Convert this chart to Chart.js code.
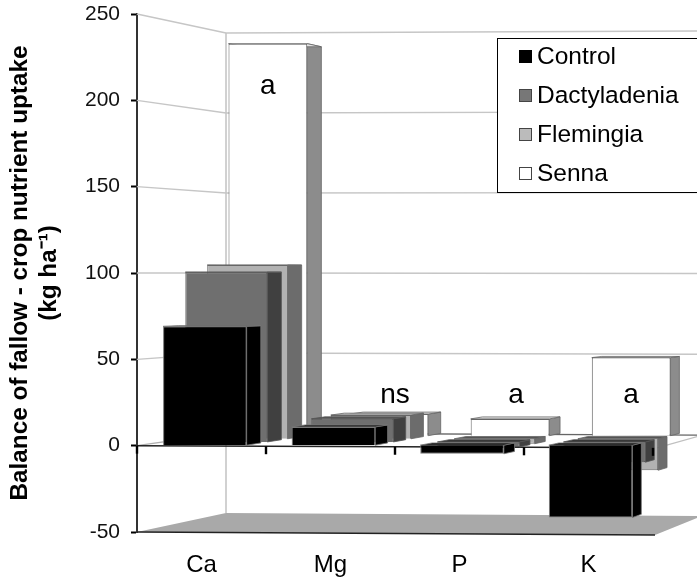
<!DOCTYPE html>
<html>
<head>
<meta charset="utf-8">
<style>
html,body{margin:0;padding:0;background:#fff}
canvas{display:block}
</style>
<script src="https://cdn.jsdelivr.net/npm/chart.js@4"></script>
</head>
<body>
<canvas id="c" width="697" height="585"></canvas>
<script>
// values
const categories=['Ca','Mg','P','K'];
const control=[69,10.6,-5,-42];
const dactyladenia=[100.5,13.7,-3,-12];
const flemingia=[104.8,14.3,-3,-19];
const senna=[241,13.3,10.3,48];
const sigLabels=['a','ns','a','a'];
const sigAt=[0,1.05,2.05,3];        // category position of the letter
const sigValues=[215,25,25,25];     // height of the letter, on senna's scale

// the fake 3d box: t=0 is the front of the box, t=1 the back wall
const front={left:137,right:653,top:14,bottom:532};
const back={left:226,right:702,top:33,bottom:513};
const backFarEnd={top:31,bottom:516};
const frontFarEnd={top:12,bottom:535};
const barDepth=0.175;
const FONT='"Liberation Sans", Arial, sans-serif';

function plane(t){
  return {
    left:front.left+(back.left-front.left)*t,
    right:front.right+(back.right-front.right)*t,
    top:front.top+(back.top-front.top)*t,
    bottom:front.bottom+(back.bottom-front.bottom)*t
  };
}
function yOf(v,box){return box.bottom-(v+50)/300*(box.bottom-box.top);}

const series=[
  {label:'Control',data:control,t:0.04,face:'#000000',side:'#000000',lid:'#1c1c1c',lidNeg:'#111111',edge:'#777777',key:'#000000'},
  {label:'Dactyladenia',data:dactyladenia,t:0.295,face:'#6f6f6f',side:'#404040',lid:'#555555',lidNeg:'#333333',edge:'#555555',key:'#777777'},
  {label:'Flemingia',data:flemingia,t:0.546,face:'#b2b2b2',side:'#6c6c6c',lid:'#c4c4c4',lidNeg:'#555555',edge:'#666666',key:'#bbbbbb'},
  {label:'Senna',data:senna,t:0.79,face:'#ffffff',side:'#8c8c8c',lid:'#e4e4e4',lidNeg:'#777777',edge:'#666666',key:'#ffffff'}
];

function poly(ctx,pts,fill,stroke){
  ctx.beginPath();
  pts.forEach(function(p,i){ if(i==0) ctx.moveTo(p[0],p[1]); else ctx.lineTo(p[0],p[1]); });
  ctx.closePath();
  if(fill){ctx.fillStyle=fill;ctx.fill();}
  if(stroke){ctx.strokeStyle=stroke;ctx.lineWidth=0.8;ctx.stroke();}
}
function line(ctx,x1,y1,x2,y2,color,w){
  ctx.beginPath();
  ctx.moveTo(x1,y1);ctx.lineTo(x2,y2);
  ctx.strokeStyle=color;ctx.lineWidth=w;ctx.stroke();
}

const box3d={
  id:'box3d',
  // every series gets its own pair of scales, moved onto its depth plane
  afterLayout(chart){
    const main=chart.scales.y;
    main.top=front.top;main.bottom=front.bottom;main.height=front.bottom-front.top;
    main.configure();
    chart.chartArea.top=front.top;
    chart.chartArea.height=front.bottom-front.top;
    series.forEach(function(s,k){
      const b=plane(s.t);
      const xs=chart.scales['x'+k],ys=chart.scales['y'+k];
      xs.left=b.left;xs.right=b.right;xs.width=b.right-b.left;
      xs.top=b.bottom;xs.bottom=b.bottom;
      ys.top=b.top;ys.bottom=b.bottom;ys.height=b.bottom-b.top;
      ys.left=b.left;ys.right=b.left;
      xs.configure();ys.configure();
    });
  },
  beforeDatasetsDraw(chart){
    const ctx=chart.ctx;
    const ys=chart.scales.y;
    ctx.save();
    // floor
    poly(ctx,[[front.left,front.bottom],[back.left,back.bottom],[back.right,backFarEnd.bottom],[front.right+2,frontFarEnd.bottom]],'#a9a9a9');
    // walls
    ys.ticks.forEach(function(tk){
      const v=tk.value;
      if(v==-50) return;
      const color=v==0?'#666666':'#c6c6c6';
      line(ctx,front.left,ys.getPixelForValue(v),back.left,yOf(v,back),v==0?'#b0b0b0':'#c6c6c6',1.4);
      line(ctx,back.left,yOf(v,back),back.right,yOf(v,backFarEnd),color,1.4);
    });
    line(ctx,back.left,back.top,back.left,back.bottom,'#c6c6c6',1.6);
    // right edge of the zero plane, then its front edge
    line(ctx,front.right+4,yOf(0,frontFarEnd),back.right,yOf(0,backFarEnd),'#c0c0c0',1.2);
    line(ctx,front.left,ys.getPixelForValue(0),front.right+4,yOf(0,frontFarEnd),'#222222',1.5);
    // floor front edge
    line(ctx,front.left,front.bottom,front.right+2,frontFarEnd.bottom,'#222222',1.6);
    ctx.restore();
  },
  beforeDatasetDraw(chart,args){
    const s=series[args.index];
    if(!s) return;
    const ctx=chart.ctx;
    const near=plane(s.t),far=plane(s.t+barDepth);
    const fx=function(px){return far.left+(px-near.left)/(near.right-near.left)*(far.right-far.left);};
    const fy=function(py){return far.top+(py-near.top)/(near.bottom-near.top)*(far.bottom-far.top);};
    ctx.save();
    args.meta.data.forEach(function(el,i){
      const l=el.x-el.width/2,r=el.x+el.width/2;
      const top=Math.min(el.y,el.base),bot=Math.max(el.y,el.base);
      poly(ctx,[[r,top],[fx(r),fy(top)],[fx(r),fy(bot)],[r,bot]],s.side,s.edge);
      poly(ctx,[[l,top],[fx(l),fy(top)],[fx(r),fy(top)],[r,top]],s.data[i]<0?s.lidNeg:s.lid,s.edge);
    });
    ctx.restore();
  },
  afterDatasetsDraw(chart){
    const ctx=chart.ctx;
    const xs=chart.scales.x,ys=chart.scales.y;
    ctx.save();
    // category ticks sit on the zero plane
    for(let i=0;i<=categories.length;i++){
      const px=xs.getPixelForValue(i-0.5);
      const py=ys.getPixelForValue(0)+(yOf(0,frontFarEnd)-ys.getPixelForValue(0))*(px-front.left)/(front.right-front.left);
      line(ctx,px,py,px,py+8,'#000000',2.4);
    }
    // significance letters
    ctx.fillStyle='#000';
    ctx.font='28px '+FONT;
    ctx.textAlign='center';
    ctx.textBaseline='middle';
    const sx=chart.scales.x3,sy=chart.scales.y3;
    sigLabels.forEach(function(t,i){
      ctx.fillText(t,sx.getPixelForValue(sigAt[i]),sy.getPixelForValue(sigValues[i]));
    });
    // legend
    ctx.fillStyle='#fff';
    ctx.fillRect(497.5,38.5,210,154);
    ctx.strokeStyle='#000';
    ctx.lineWidth=1;
    ctx.strokeRect(497.5,38.5,210,154);
    ctx.font='24.5px '+FONT;
    ctx.textAlign='left';
    series.forEach(function(s,i){
      const cy=57+i*39;
      ctx.fillStyle=s.key;
      ctx.fillRect(519.5,cy-6.5,12,12);
      ctx.strokeStyle=i==0?'#000':'#444';
      ctx.strokeRect(519.5,cy-6.5,12,12);
      ctx.fillStyle='#000';
      ctx.fillText(s.label,537,cy);
    });
    ctx.restore();
  }
};

const scales={
  x:{
    type:'category',offset:true,
    grid:{display:false,drawTicks:false},
    border:{display:false},
    ticks:{color:'#000',font:{family:FONT,size:24},padding:19,maxRotation:0,autoSkip:false},
    afterFit(s){s.height=585-front.bottom;}
  },
  y:{
    type:'linear',min:-50,max:250,
    grid:{drawOnChartArea:false,drawTicks:true,tickLength:6,tickColor:'#000',tickWidth:2},
    border:{display:true,color:'#333333',width:2},
    ticks:{stepSize:50,color:'#111',font:{family:FONT,size:21},padding:11},
    title:{
      display:true,
      text:['Balance of fallow - crop nutrient uptake','(kg ha\u207B\u00B9)'],
      color:'#000',
      font:{family:FONT,size:24.3,weight:'bold',lineHeight:1.2},
      padding:{top:6,bottom:0}
    },
    afterFit(s){s.width=front.left;}
  }
};
series.forEach(function(s,k){
  scales['x'+k]={type:'category',offset:true,display:false};
  scales['y'+k]={type:'linear',min:-50,max:250,display:false};
});

new Chart('c',{
  type:'bar',
  data:{
    labels:categories,
    datasets:series.map(function(s,k){
      return {
        label:s.label,
        data:s.data,
        xAxisID:'x'+k,
        yAxisID:'y'+k,
        order:k,
        grouped:false,
        backgroundColor:s.face,
        borderColor:s.edge,
        borderWidth:1,
        barPercentage:0.65,
        categoryPercentage:1,
        clip:false
      };
    })
  },
  options:{
    responsive:false,
    animation:false,
    layout:{padding:{top:front.top,right:697-front.right,left:0,bottom:0}},
    plugins:{legend:{display:false},title:{display:false},tooltip:{enabled:false}},
    scales:scales
  },
  plugins:[box3d]
});
</script>
</body>
</html>
